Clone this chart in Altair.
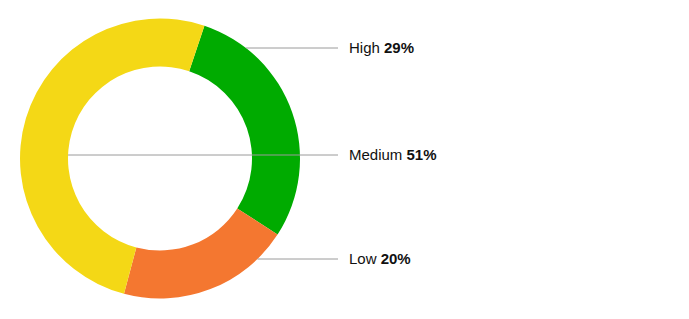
import math
import altair as alt
import pandas as pd

# ---- data ----
categories = ["High", "Low", "Medium"]
values = [29, 20, 51]
colors = ["#00AB00", "#F47730", "#F4D816"]

# ---- layout constants ----
W, H = 689, 319
CX, CY = 160, 158.5
R_OUT, R_IN = 140, 92
START_DEG = 18.5
LABEL_X = 349
LINE_END_X = 338
FONT = "Liberation Sans"
FS = 15
label_y = {"High": 48, "Medium": 155, "Low": 259}

# Liberation Sans (Arial-metric) regular advance widths per 1000 em
CW = {"H": 722, "i": 222, "g": 556, "h": 556, " ": 278, "M": 833, "e": 556,
      "d": 556, "u": 556, "m": 833, "L": 556, "o": 556, "w": 722}


def text_w(s, size):
    return sum(CW.get(c, 556) for c in s) * size / 1000.0


rows = []
for i, (c, v) in enumerate(zip(categories, values)):
    y = label_y[c]
    dy = abs(y - CY)
    if c == "Medium":
        x0 = CX - math.sqrt(R_IN ** 2 - dy ** 2)
    else:
        x0 = CX + math.sqrt(R_OUT ** 2 - dy ** 2)
    rows.append({
        "cat": c, "value": v, "ord": i,
        "name": c + " ", "pct": f"{v}%",
        "y": y, "x0": x0, "x1": LINE_END_X,
        "xl": LABEL_X, "xb": LABEL_X + text_w(c + " ", FS),
    })
df = pd.DataFrame(rows)

start = math.radians(START_DEG)
arc = alt.Chart(df).mark_arc(innerRadius=R_IN, outerRadius=R_OUT, stroke=None).encode(
    theta=alt.Theta("value:Q", stack=True,
                    scale=alt.Scale(range=[start, start + 2 * math.pi])),
    order=alt.Order("ord:Q"),
    color=alt.Color("cat:N", scale=alt.Scale(domain=categories, range=colors), legend=None),
    x=alt.value(CX),
    y=alt.value(CY),
)

rules = alt.Chart(df).mark_rule(color="#9a9a9a", strokeWidth=1).encode(
    x=alt.X("x0:Q", scale=None),
    x2="x1:Q",
    y=alt.Y("y:Q", scale=None),
)

names = alt.Chart(df).mark_text(align="left", baseline="middle", font=FONT,
                                fontSize=FS, color="#111111").encode(
    x=alt.X("xl:Q", scale=None),
    y=alt.Y("y:Q", scale=None),
    text="name:N",
)

pcts = alt.Chart(df).mark_text(align="left", baseline="middle", font=FONT,
                               fontSize=FS, fontWeight="bold", color="#111111").encode(
    x=alt.X("xb:Q", scale=None),
    y=alt.Y("y:Q", scale=None),
    text="pct:N",
)

chart = alt.layer(arc, rules, names, pcts).properties(
    width=W, height=H,
    autosize=alt.AutoSizeParams(type="none"),
    padding=0,
    background="white",
).configure_view(stroke=None)

chart.save("out.html", embed_options={"renderer": "svg", "actions": False})
